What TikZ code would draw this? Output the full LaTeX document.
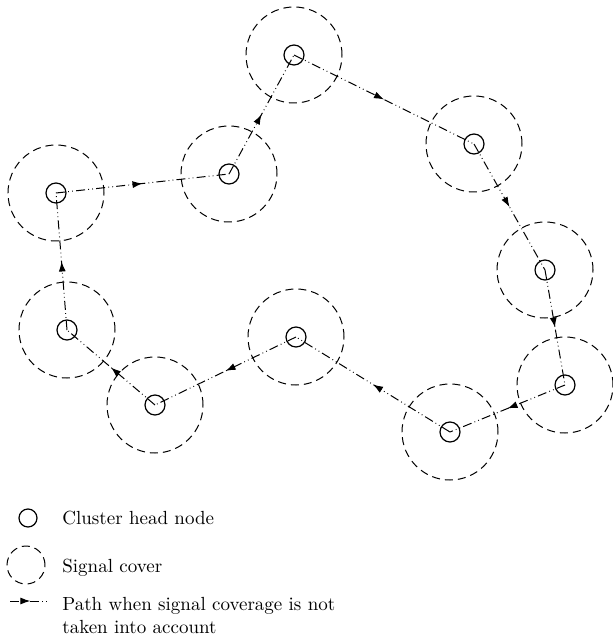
\documentclass[tikz,border=0pt]{standalone}
\usepackage{tikz}
\usetikzlibrary{arrows.meta, decorations.markings}

\tikzset{
  chnode/.style={circle, draw, line width=0.6pt, minimum size=10pt, inner sep=0pt},
  coverzone/.style={circle, draw, dash pattern=on 4pt off 2.5pt, line width=0.5pt, minimum size=48pt, inner sep=0pt},
  hoppath/.style={line width=0.5pt, dash pattern=on 4.5pt off 1.6pt on 0.4pt off 1.6pt on 0.4pt off 1.6pt,
    postaction={decorate}, decoration={markings, mark=at position #1 with {\arrow{Latex[length=5pt, width=3.5pt]}}}},
  hoppath/.default=0.5,
  keytext/.style={font=\fontsize{9.5}{11.5}\selectfont, inner sep=0pt, align=left}
}

\begin{document}
\begin{tikzpicture}[x=0.5pt, y=-0.5pt]
  \useasboundingbox (0,0) rectangle (613,641);

  % Cluster heads
  \node[chnode] (A) at (56,193) {};
  \node[chnode] (B) at (229,174) {};
  \node[chnode] (C) at (294,55) {};
  \node[chnode] (D) at (474,144) {};
  \node[chnode] (E) at (545,270) {};
  \node[chnode] (F) at (565,385) {};
  \node[chnode] (G) at (450,432) {};
  \node[chnode] (H) at (296,337) {};
  \node[chnode] (I) at (155,405) {};
  \node[chnode] (J) at (67,330) {};

  % Signal cover
  \node[coverzone] (Acov) at (A) {};
  \node[coverzone] (Bcov) at (B) {};
  \node[coverzone] (Ccov) at (C) {};
  \node[coverzone] (Dcov) at (D) {};
  \node[coverzone] (Ecov) at (E) {};
  \node[coverzone] (Fcov) at (F) {};
  \node[coverzone] (Gcov) at (G) {};
  \node[coverzone] (Hcov) at (H) {};
  \node[coverzone] (Icov) at (I) {};
  \node[coverzone] (Jcov) at (J) {};

  % Path between cluster heads
  \draw[hoppath] (A.center) -- (B.center);
  \draw[hoppath] (B.center) -- (C.center);
  \draw[hoppath] (C.center) -- (D.center);
  \draw[hoppath] (D.center) -- (E.center);
  \draw[hoppath] (E.center) -- (F.center);
  \draw[hoppath] (F.center) -- (G.center);
  \draw[hoppath] (G.center) -- (H.center);
  \draw[hoppath] (H.center) -- (I.center);
  \draw[hoppath] (I.center) -- (J.center);
  \draw[hoppath] (J.center) -- (A.center);

  % Legend
  \node[chnode, minimum size=9pt] (keyhead) at (28,518) {};
  \node[coverzone, minimum size=19pt] (keycover) at (26,565) {};
  \coordinate (keyfrom) at (10,601);
  \coordinate (keyto) at (47,601);
  \draw[hoppath=0.55] (keyfrom) -- (keyto);

  \node[keytext, anchor=base west] (headlabel) at (62,524) {Cluster head node};
  \node[keytext, anchor=base west] (coverlabel) at (62,572) {Signal cover};
  \node[keytext, anchor=base west] (pathlabel) at (62,633) {Path when signal coverage is not\\taken into account};
\end{tikzpicture}
\end{document}
